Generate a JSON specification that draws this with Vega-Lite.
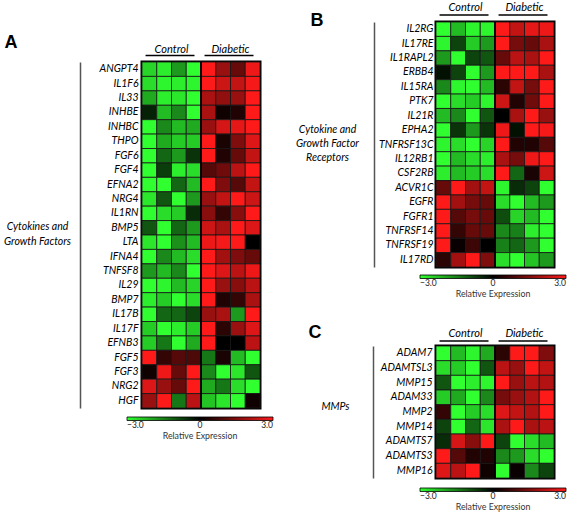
{
"$schema": "https://vega.github.io/schema/vega-lite/v6.json",
"padding": {"left": 1, "top": 0, "right": 0, "bottom": 0},
"config": {"font": "Lato", "view": {"stroke": "black", "strokeWidth": 3}},
"datasets": {"expr": [
{"panel":"A","gene":"ANGPT4","group":"Control","rep":1,"value":-2.5},{"panel":"A","gene":"ANGPT4","group":"Control","rep":2,"value":-2.8},{"panel":"A","gene":"ANGPT4","group":"Control","rep":3,"value":-1.8},{"panel":"A","gene":"ANGPT4","group":"Control","rep":4,"value":-3},{"panel":"A","gene":"ANGPT4","group":"Diabetic","rep":1,"value":3},{"panel":"A","gene":"ANGPT4","group":"Diabetic","rep":2,"value":1.8},{"panel":"A","gene":"ANGPT4","group":"Diabetic","rep":3,"value":1.2},{"panel":"A","gene":"ANGPT4","group":"Diabetic","rep":4,"value":2.8},
{"panel":"A","gene":"IL1F6","group":"Control","rep":1,"value":-2.6},{"panel":"A","gene":"IL1F6","group":"Control","rep":2,"value":-2.9},{"panel":"A","gene":"IL1F6","group":"Control","rep":3,"value":-2.8},{"panel":"A","gene":"IL1F6","group":"Control","rep":4,"value":-2.9},{"panel":"A","gene":"IL1F6","group":"Diabetic","rep":1,"value":3},{"panel":"A","gene":"IL1F6","group":"Diabetic","rep":2,"value":2.4},{"panel":"A","gene":"IL1F6","group":"Diabetic","rep":3,"value":2.3},{"panel":"A","gene":"IL1F6","group":"Diabetic","rep":4,"value":2.9},
{"panel":"A","gene":"IL33","group":"Control","rep":1,"value":-2.0},{"panel":"A","gene":"IL33","group":"Control","rep":2,"value":-2.8},{"panel":"A","gene":"IL33","group":"Control","rep":3,"value":-2.7},{"panel":"A","gene":"IL33","group":"Control","rep":4,"value":-3},{"panel":"A","gene":"IL33","group":"Diabetic","rep":1,"value":2.0},{"panel":"A","gene":"IL33","group":"Diabetic","rep":2,"value":1.7},{"panel":"A","gene":"IL33","group":"Diabetic","rep":3,"value":1.8},{"panel":"A","gene":"IL33","group":"Diabetic","rep":4,"value":3},
{"panel":"A","gene":"INHBE","group":"Control","rep":1,"value":-0.4},{"panel":"A","gene":"INHBE","group":"Control","rep":2,"value":-2.2},{"panel":"A","gene":"INHBE","group":"Control","rep":3,"value":-1.6},{"panel":"A","gene":"INHBE","group":"Control","rep":4,"value":-3},{"panel":"A","gene":"INHBE","group":"Diabetic","rep":1,"value":2.0},{"panel":"A","gene":"INHBE","group":"Diabetic","rep":2,"value":0.2},{"panel":"A","gene":"INHBE","group":"Diabetic","rep":3,"value":0.4},{"panel":"A","gene":"INHBE","group":"Diabetic","rep":4,"value":3},
{"panel":"A","gene":"INHBC","group":"Control","rep":1,"value":-3},{"panel":"A","gene":"INHBC","group":"Control","rep":2,"value":-1.6},{"panel":"A","gene":"INHBC","group":"Control","rep":3,"value":-2.2},{"panel":"A","gene":"INHBC","group":"Control","rep":4,"value":-2.0},{"panel":"A","gene":"INHBC","group":"Diabetic","rep":1,"value":1.8},{"panel":"A","gene":"INHBC","group":"Diabetic","rep":2,"value":2.5},{"panel":"A","gene":"INHBC","group":"Diabetic","rep":3,"value":2.7},{"panel":"A","gene":"INHBC","group":"Diabetic","rep":4,"value":3},
{"panel":"A","gene":"THPO","group":"Control","rep":1,"value":-3},{"panel":"A","gene":"THPO","group":"Control","rep":2,"value":-2.0},{"panel":"A","gene":"THPO","group":"Control","rep":3,"value":-2.4},{"panel":"A","gene":"THPO","group":"Control","rep":4,"value":-2.4},{"panel":"A","gene":"THPO","group":"Diabetic","rep":1,"value":3},{"panel":"A","gene":"THPO","group":"Diabetic","rep":2,"value":0.3},{"panel":"A","gene":"THPO","group":"Diabetic","rep":3,"value":1.5},{"panel":"A","gene":"THPO","group":"Diabetic","rep":4,"value":2.6},
{"panel":"A","gene":"FGF6","group":"Control","rep":1,"value":-3},{"panel":"A","gene":"FGF6","group":"Control","rep":2,"value":-1.2},{"panel":"A","gene":"FGF6","group":"Control","rep":3,"value":-1.8},{"panel":"A","gene":"FGF6","group":"Control","rep":4,"value":-0.6},{"panel":"A","gene":"FGF6","group":"Diabetic","rep":1,"value":3},{"panel":"A","gene":"FGF6","group":"Diabetic","rep":2,"value":0.4},{"panel":"A","gene":"FGF6","group":"Diabetic","rep":3,"value":1.2},{"panel":"A","gene":"FGF6","group":"Diabetic","rep":4,"value":2.3},
{"panel":"A","gene":"FGF4","group":"Control","rep":1,"value":-3},{"panel":"A","gene":"FGF4","group":"Control","rep":2,"value":-0.7},{"panel":"A","gene":"FGF4","group":"Control","rep":3,"value":-2.8},{"panel":"A","gene":"FGF4","group":"Control","rep":4,"value":-2.6},{"panel":"A","gene":"FGF4","group":"Diabetic","rep":1,"value":1.0},{"panel":"A","gene":"FGF4","group":"Diabetic","rep":2,"value":1.3},{"panel":"A","gene":"FGF4","group":"Diabetic","rep":3,"value":2.2},{"panel":"A","gene":"FGF4","group":"Diabetic","rep":4,"value":3},
{"panel":"A","gene":"EFNA2","group":"Control","rep":1,"value":-3},{"panel":"A","gene":"EFNA2","group":"Control","rep":2,"value":-3},{"panel":"A","gene":"EFNA2","group":"Control","rep":3,"value":-1.2},{"panel":"A","gene":"EFNA2","group":"Control","rep":4,"value":-2.2},{"panel":"A","gene":"EFNA2","group":"Diabetic","rep":1,"value":3},{"panel":"A","gene":"EFNA2","group":"Diabetic","rep":2,"value":1.5},{"panel":"A","gene":"EFNA2","group":"Diabetic","rep":3,"value":1.0},{"panel":"A","gene":"EFNA2","group":"Diabetic","rep":4,"value":2.3},
{"panel":"A","gene":"NRG4","group":"Control","rep":1,"value":-2.7},{"panel":"A","gene":"NRG4","group":"Control","rep":2,"value":-1.0},{"panel":"A","gene":"NRG4","group":"Control","rep":3,"value":-3},{"panel":"A","gene":"NRG4","group":"Control","rep":4,"value":-1.8},{"panel":"A","gene":"NRG4","group":"Diabetic","rep":1,"value":1.8},{"panel":"A","gene":"NRG4","group":"Diabetic","rep":2,"value":2.3},{"panel":"A","gene":"NRG4","group":"Diabetic","rep":3,"value":3},{"panel":"A","gene":"NRG4","group":"Diabetic","rep":4,"value":2.4},
{"panel":"A","gene":"IL1RN","group":"Control","rep":1,"value":-3},{"panel":"A","gene":"IL1RN","group":"Control","rep":2,"value":-2.6},{"panel":"A","gene":"IL1RN","group":"Control","rep":3,"value":-2.4},{"panel":"A","gene":"IL1RN","group":"Control","rep":4,"value":-0.5},{"panel":"A","gene":"IL1RN","group":"Diabetic","rep":1,"value":1.6},{"panel":"A","gene":"IL1RN","group":"Diabetic","rep":2,"value":0.6},{"panel":"A","gene":"IL1RN","group":"Diabetic","rep":3,"value":1.6},{"panel":"A","gene":"IL1RN","group":"Diabetic","rep":4,"value":3},
{"panel":"A","gene":"BMP5","group":"Control","rep":1,"value":-1.0},{"panel":"A","gene":"BMP5","group":"Control","rep":2,"value":-3},{"panel":"A","gene":"BMP5","group":"Control","rep":3,"value":-1.2},{"panel":"A","gene":"BMP5","group":"Control","rep":4,"value":-1.8},{"panel":"A","gene":"BMP5","group":"Diabetic","rep":1,"value":2.4},{"panel":"A","gene":"BMP5","group":"Diabetic","rep":2,"value":2.0},{"panel":"A","gene":"BMP5","group":"Diabetic","rep":3,"value":3},{"panel":"A","gene":"BMP5","group":"Diabetic","rep":4,"value":2.6},
{"panel":"A","gene":"LTA","group":"Control","rep":1,"value":-2.7},{"panel":"A","gene":"LTA","group":"Control","rep":2,"value":-3},{"panel":"A","gene":"LTA","group":"Control","rep":3,"value":-1.7},{"panel":"A","gene":"LTA","group":"Control","rep":4,"value":-2.2},{"panel":"A","gene":"LTA","group":"Diabetic","rep":1,"value":2.8},{"panel":"A","gene":"LTA","group":"Diabetic","rep":2,"value":2.9},{"panel":"A","gene":"LTA","group":"Diabetic","rep":3,"value":3},{"panel":"A","gene":"LTA","group":"Diabetic","rep":4,"value":0},
{"panel":"A","gene":"IFNA4","group":"Control","rep":1,"value":-3},{"panel":"A","gene":"IFNA4","group":"Control","rep":2,"value":-1.6},{"panel":"A","gene":"IFNA4","group":"Control","rep":3,"value":-2.2},{"panel":"A","gene":"IFNA4","group":"Control","rep":4,"value":-2.6},{"panel":"A","gene":"IFNA4","group":"Diabetic","rep":1,"value":3},{"panel":"A","gene":"IFNA4","group":"Diabetic","rep":2,"value":1.9},{"panel":"A","gene":"IFNA4","group":"Diabetic","rep":3,"value":1.5},{"panel":"A","gene":"IFNA4","group":"Diabetic","rep":4,"value":1.2},
{"panel":"A","gene":"TNFSF8","group":"Control","rep":1,"value":-1.8},{"panel":"A","gene":"TNFSF8","group":"Control","rep":2,"value":-2.2},{"panel":"A","gene":"TNFSF8","group":"Control","rep":3,"value":-1.6},{"panel":"A","gene":"TNFSF8","group":"Control","rep":4,"value":-3},{"panel":"A","gene":"TNFSF8","group":"Diabetic","rep":1,"value":3},{"panel":"A","gene":"TNFSF8","group":"Diabetic","rep":2,"value":2.6},{"panel":"A","gene":"TNFSF8","group":"Diabetic","rep":3,"value":2.2},{"panel":"A","gene":"TNFSF8","group":"Diabetic","rep":4,"value":2.8},
{"panel":"A","gene":"IL29","group":"Control","rep":1,"value":-3},{"panel":"A","gene":"IL29","group":"Control","rep":2,"value":-2.9},{"panel":"A","gene":"IL29","group":"Control","rep":3,"value":-2.2},{"panel":"A","gene":"IL29","group":"Control","rep":4,"value":-2.5},{"panel":"A","gene":"IL29","group":"Diabetic","rep":1,"value":3},{"panel":"A","gene":"IL29","group":"Diabetic","rep":2,"value":1.8},{"panel":"A","gene":"IL29","group":"Diabetic","rep":3,"value":1.6},{"panel":"A","gene":"IL29","group":"Diabetic","rep":4,"value":2.2},
{"panel":"A","gene":"BMP7","group":"Control","rep":1,"value":-2.8},{"panel":"A","gene":"BMP7","group":"Control","rep":2,"value":-2.4},{"panel":"A","gene":"BMP7","group":"Control","rep":3,"value":-3},{"panel":"A","gene":"BMP7","group":"Control","rep":4,"value":-2.6},{"panel":"A","gene":"BMP7","group":"Diabetic","rep":1,"value":3},{"panel":"A","gene":"BMP7","group":"Diabetic","rep":2,"value":0.4},{"panel":"A","gene":"BMP7","group":"Diabetic","rep":3,"value":0.6},{"panel":"A","gene":"BMP7","group":"Diabetic","rep":4,"value":2.0},
{"panel":"A","gene":"IL17B","group":"Control","rep":1,"value":-3},{"panel":"A","gene":"IL17B","group":"Control","rep":2,"value":-1.2},{"panel":"A","gene":"IL17B","group":"Control","rep":3,"value":-1.2},{"panel":"A","gene":"IL17B","group":"Control","rep":4,"value":-0.8},{"panel":"A","gene":"IL17B","group":"Diabetic","rep":1,"value":1.8},{"panel":"A","gene":"IL17B","group":"Diabetic","rep":2,"value":2.0},{"panel":"A","gene":"IL17B","group":"Diabetic","rep":3,"value":-1.8},{"panel":"A","gene":"IL17B","group":"Diabetic","rep":4,"value":3},
{"panel":"A","gene":"IL17F","group":"Control","rep":1,"value":-2.4},{"panel":"A","gene":"IL17F","group":"Control","rep":2,"value":-3},{"panel":"A","gene":"IL17F","group":"Control","rep":3,"value":-2.8},{"panel":"A","gene":"IL17F","group":"Control","rep":4,"value":-2.4},{"panel":"A","gene":"IL17F","group":"Diabetic","rep":1,"value":3},{"panel":"A","gene":"IL17F","group":"Diabetic","rep":2,"value":0.5},{"panel":"A","gene":"IL17F","group":"Diabetic","rep":3,"value":1.8},{"panel":"A","gene":"IL17F","group":"Diabetic","rep":4,"value":2.6},
{"panel":"A","gene":"EFNB3","group":"Control","rep":1,"value":-2.4},{"panel":"A","gene":"EFNB3","group":"Control","rep":2,"value":-1.4},{"panel":"A","gene":"EFNB3","group":"Control","rep":3,"value":-3},{"panel":"A","gene":"EFNB3","group":"Control","rep":4,"value":-2.0},{"panel":"A","gene":"EFNB3","group":"Diabetic","rep":1,"value":3},{"panel":"A","gene":"EFNB3","group":"Diabetic","rep":2,"value":0},{"panel":"A","gene":"EFNB3","group":"Diabetic","rep":3,"value":0},{"panel":"A","gene":"EFNB3","group":"Diabetic","rep":4,"value":2.2},
{"panel":"A","gene":"FGF5","group":"Control","rep":1,"value":3},{"panel":"A","gene":"FGF5","group":"Control","rep":2,"value":0.6},{"panel":"A","gene":"FGF5","group":"Control","rep":3,"value":1.0},{"panel":"A","gene":"FGF5","group":"Control","rep":4,"value":0.9},{"panel":"A","gene":"FGF5","group":"Diabetic","rep":1,"value":-1.4},{"panel":"A","gene":"FGF5","group":"Diabetic","rep":2,"value":0.3},{"panel":"A","gene":"FGF5","group":"Diabetic","rep":3,"value":-2.2},{"panel":"A","gene":"FGF5","group":"Diabetic","rep":4,"value":-3},
{"panel":"A","gene":"FGF3","group":"Control","rep":1,"value":0.2},{"panel":"A","gene":"FGF3","group":"Control","rep":2,"value":2.8},{"panel":"A","gene":"FGF3","group":"Control","rep":3,"value":1.2},{"panel":"A","gene":"FGF3","group":"Control","rep":4,"value":3},{"panel":"A","gene":"FGF3","group":"Diabetic","rep":1,"value":-1.6},{"panel":"A","gene":"FGF3","group":"Diabetic","rep":2,"value":-3},{"panel":"A","gene":"FGF3","group":"Diabetic","rep":3,"value":-2.7},{"panel":"A","gene":"FGF3","group":"Diabetic","rep":4,"value":-1.0},
{"panel":"A","gene":"NRG2","group":"Control","rep":1,"value":2.6},{"panel":"A","gene":"NRG2","group":"Control","rep":2,"value":1.8},{"panel":"A","gene":"NRG2","group":"Control","rep":3,"value":1.2},{"panel":"A","gene":"NRG2","group":"Control","rep":4,"value":3},{"panel":"A","gene":"NRG2","group":"Diabetic","rep":1,"value":-2.0},{"panel":"A","gene":"NRG2","group":"Diabetic","rep":2,"value":-1.4},{"panel":"A","gene":"NRG2","group":"Diabetic","rep":3,"value":-2.6},{"panel":"A","gene":"NRG2","group":"Diabetic","rep":4,"value":-3},
{"panel":"A","gene":"HGF","group":"Control","rep":1,"value":1.8},{"panel":"A","gene":"HGF","group":"Control","rep":2,"value":3},{"panel":"A","gene":"HGF","group":"Control","rep":3,"value":-1.4},{"panel":"A","gene":"HGF","group":"Control","rep":4,"value":2.2},{"panel":"A","gene":"HGF","group":"Diabetic","rep":1,"value":-2.3},{"panel":"A","gene":"HGF","group":"Diabetic","rep":2,"value":-2.7},{"panel":"A","gene":"HGF","group":"Diabetic","rep":3,"value":-3},{"panel":"A","gene":"HGF","group":"Diabetic","rep":4,"value":0.2},
{"panel":"B","gene":"IL2RG","group":"Control","rep":1,"value":-3},{"panel":"B","gene":"IL2RG","group":"Control","rep":2,"value":-2.2},{"panel":"B","gene":"IL2RG","group":"Control","rep":3,"value":-2.9},{"panel":"B","gene":"IL2RG","group":"Control","rep":4,"value":-2.9},{"panel":"B","gene":"IL2RG","group":"Diabetic","rep":1,"value":3},{"panel":"B","gene":"IL2RG","group":"Diabetic","rep":2,"value":2.3},{"panel":"B","gene":"IL2RG","group":"Diabetic","rep":3,"value":2.7},{"panel":"B","gene":"IL2RG","group":"Diabetic","rep":4,"value":2.8},
{"panel":"B","gene":"IL17RE","group":"Control","rep":1,"value":-2.9},{"panel":"B","gene":"IL17RE","group":"Control","rep":2,"value":-0.8},{"panel":"B","gene":"IL17RE","group":"Control","rep":3,"value":-2.4},{"panel":"B","gene":"IL17RE","group":"Control","rep":4,"value":-1.8},{"panel":"B","gene":"IL17RE","group":"Diabetic","rep":1,"value":3},{"panel":"B","gene":"IL17RE","group":"Diabetic","rep":2,"value":1.4},{"panel":"B","gene":"IL17RE","group":"Diabetic","rep":3,"value":1.2},{"panel":"B","gene":"IL17RE","group":"Diabetic","rep":4,"value":2.0},
{"panel":"B","gene":"IL1RAPL2","group":"Control","rep":1,"value":-1.8},{"panel":"B","gene":"IL1RAPL2","group":"Control","rep":2,"value":-3},{"panel":"B","gene":"IL1RAPL2","group":"Control","rep":3,"value":-0.8},{"panel":"B","gene":"IL1RAPL2","group":"Control","rep":4,"value":-1.0},{"panel":"B","gene":"IL1RAPL2","group":"Diabetic","rep":1,"value":1.2},{"panel":"B","gene":"IL1RAPL2","group":"Diabetic","rep":2,"value":2.2},{"panel":"B","gene":"IL1RAPL2","group":"Diabetic","rep":3,"value":2.0},{"panel":"B","gene":"IL1RAPL2","group":"Diabetic","rep":4,"value":3},
{"panel":"B","gene":"ERBB4","group":"Control","rep":1,"value":-0.2},{"panel":"B","gene":"ERBB4","group":"Control","rep":2,"value":-0.8},{"panel":"B","gene":"ERBB4","group":"Control","rep":3,"value":-3},{"panel":"B","gene":"ERBB4","group":"Control","rep":4,"value":-1.8},{"panel":"B","gene":"ERBB4","group":"Diabetic","rep":1,"value":3},{"panel":"B","gene":"ERBB4","group":"Diabetic","rep":2,"value":3},{"panel":"B","gene":"ERBB4","group":"Diabetic","rep":3,"value":3},{"panel":"B","gene":"ERBB4","group":"Diabetic","rep":4,"value":2.0},
{"panel":"B","gene":"IL15RA","group":"Control","rep":1,"value":-1.6},{"panel":"B","gene":"IL15RA","group":"Control","rep":2,"value":-2.9},{"panel":"B","gene":"IL15RA","group":"Control","rep":3,"value":-3},{"panel":"B","gene":"IL15RA","group":"Control","rep":4,"value":-2.2},{"panel":"B","gene":"IL15RA","group":"Diabetic","rep":1,"value":0.5},{"panel":"B","gene":"IL15RA","group":"Diabetic","rep":2,"value":2.3},{"panel":"B","gene":"IL15RA","group":"Diabetic","rep":3,"value":1.4},{"panel":"B","gene":"IL15RA","group":"Diabetic","rep":4,"value":3},
{"panel":"B","gene":"PTK7","group":"Control","rep":1,"value":-3},{"panel":"B","gene":"PTK7","group":"Control","rep":2,"value":-2.6},{"panel":"B","gene":"PTK7","group":"Control","rep":3,"value":-2.4},{"panel":"B","gene":"PTK7","group":"Control","rep":4,"value":-2.9},{"panel":"B","gene":"PTK7","group":"Diabetic","rep":1,"value":2.4},{"panel":"B","gene":"PTK7","group":"Diabetic","rep":2,"value":0.4},{"panel":"B","gene":"PTK7","group":"Diabetic","rep":3,"value":1.3},{"panel":"B","gene":"PTK7","group":"Diabetic","rep":4,"value":3},
{"panel":"B","gene":"IL21R","group":"Control","rep":1,"value":-2.2},{"panel":"B","gene":"IL21R","group":"Control","rep":2,"value":-1.6},{"panel":"B","gene":"IL21R","group":"Control","rep":3,"value":-3},{"panel":"B","gene":"IL21R","group":"Control","rep":4,"value":-1.0},{"panel":"B","gene":"IL21R","group":"Diabetic","rep":1,"value":0},{"panel":"B","gene":"IL21R","group":"Diabetic","rep":2,"value":2.0},{"panel":"B","gene":"IL21R","group":"Diabetic","rep":3,"value":3},{"panel":"B","gene":"IL21R","group":"Diabetic","rep":4,"value":1.8},
{"panel":"B","gene":"EPHA2","group":"Control","rep":1,"value":-3},{"panel":"B","gene":"EPHA2","group":"Control","rep":2,"value":-0.6},{"panel":"B","gene":"EPHA2","group":"Control","rep":3,"value":-1.8},{"panel":"B","gene":"EPHA2","group":"Control","rep":4,"value":-0.6},{"panel":"B","gene":"EPHA2","group":"Diabetic","rep":1,"value":2.8},{"panel":"B","gene":"EPHA2","group":"Diabetic","rep":2,"value":-0.2},{"panel":"B","gene":"EPHA2","group":"Diabetic","rep":3,"value":3},{"panel":"B","gene":"EPHA2","group":"Diabetic","rep":4,"value":2.9},
{"panel":"B","gene":"TNFRSF13C","group":"Control","rep":1,"value":-2.9},{"panel":"B","gene":"TNFRSF13C","group":"Control","rep":2,"value":-2.6},{"panel":"B","gene":"TNFRSF13C","group":"Control","rep":3,"value":-3},{"panel":"B","gene":"TNFRSF13C","group":"Control","rep":4,"value":-2.5},{"panel":"B","gene":"TNFRSF13C","group":"Diabetic","rep":1,"value":3},{"panel":"B","gene":"TNFRSF13C","group":"Diabetic","rep":2,"value":0.4},{"panel":"B","gene":"TNFRSF13C","group":"Diabetic","rep":3,"value":0.4},{"panel":"B","gene":"TNFRSF13C","group":"Diabetic","rep":4,"value":1.0},
{"panel":"B","gene":"IL12RB1","group":"Control","rep":1,"value":-3},{"panel":"B","gene":"IL12RB1","group":"Control","rep":2,"value":-2.2},{"panel":"B","gene":"IL12RB1","group":"Control","rep":3,"value":-2.6},{"panel":"B","gene":"IL12RB1","group":"Control","rep":4,"value":-2.8},{"panel":"B","gene":"IL12RB1","group":"Diabetic","rep":1,"value":2.0},{"panel":"B","gene":"IL12RB1","group":"Diabetic","rep":2,"value":1.4},{"panel":"B","gene":"IL12RB1","group":"Diabetic","rep":3,"value":2.8},{"panel":"B","gene":"IL12RB1","group":"Diabetic","rep":4,"value":3},
{"panel":"B","gene":"CSF2RB","group":"Control","rep":1,"value":-2.8},{"panel":"B","gene":"CSF2RB","group":"Control","rep":2,"value":-2.2},{"panel":"B","gene":"CSF2RB","group":"Control","rep":3,"value":-2.4},{"panel":"B","gene":"CSF2RB","group":"Control","rep":4,"value":-2.6},{"panel":"B","gene":"CSF2RB","group":"Diabetic","rep":1,"value":3},{"panel":"B","gene":"CSF2RB","group":"Diabetic","rep":2,"value":-1.2},{"panel":"B","gene":"CSF2RB","group":"Diabetic","rep":3,"value":0.3},{"panel":"B","gene":"CSF2RB","group":"Diabetic","rep":4,"value":2.4},
{"panel":"B","gene":"ACVR1C","group":"Control","rep":1,"value":1.2},{"panel":"B","gene":"ACVR1C","group":"Control","rep":2,"value":3},{"panel":"B","gene":"ACVR1C","group":"Control","rep":3,"value":1.9},{"panel":"B","gene":"ACVR1C","group":"Control","rep":4,"value":2.3},{"panel":"B","gene":"ACVR1C","group":"Diabetic","rep":1,"value":-2.9},{"panel":"B","gene":"ACVR1C","group":"Diabetic","rep":2,"value":-0.5},{"panel":"B","gene":"ACVR1C","group":"Diabetic","rep":3,"value":-0.8},{"panel":"B","gene":"ACVR1C","group":"Diabetic","rep":4,"value":-3},
{"panel":"B","gene":"EGFR","group":"Control","rep":1,"value":3},{"panel":"B","gene":"EGFR","group":"Control","rep":2,"value":1.9},{"panel":"B","gene":"EGFR","group":"Control","rep":3,"value":1.4},{"panel":"B","gene":"EGFR","group":"Control","rep":4,"value":1.2},{"panel":"B","gene":"EGFR","group":"Diabetic","rep":1,"value":-2.6},{"panel":"B","gene":"EGFR","group":"Diabetic","rep":2,"value":-3},{"panel":"B","gene":"EGFR","group":"Diabetic","rep":3,"value":-2.2},{"panel":"B","gene":"EGFR","group":"Diabetic","rep":4,"value":-1.8},
{"panel":"B","gene":"FGFR1","group":"Control","rep":1,"value":3},{"panel":"B","gene":"FGFR1","group":"Control","rep":2,"value":1.0},{"panel":"B","gene":"FGFR1","group":"Control","rep":3,"value":1.4},{"panel":"B","gene":"FGFR1","group":"Control","rep":4,"value":1.2},{"panel":"B","gene":"FGFR1","group":"Diabetic","rep":1,"value":-0.9},{"panel":"B","gene":"FGFR1","group":"Diabetic","rep":2,"value":-2.5},{"panel":"B","gene":"FGFR1","group":"Diabetic","rep":3,"value":-2.2},{"panel":"B","gene":"FGFR1","group":"Diabetic","rep":4,"value":-3},
{"panel":"B","gene":"TNFRSF14","group":"Control","rep":1,"value":3},{"panel":"B","gene":"TNFRSF14","group":"Control","rep":2,"value":0.6},{"panel":"B","gene":"TNFRSF14","group":"Control","rep":3,"value":1.2},{"panel":"B","gene":"TNFRSF14","group":"Control","rep":4,"value":1.2},{"panel":"B","gene":"TNFRSF14","group":"Diabetic","rep":1,"value":-1.6},{"panel":"B","gene":"TNFRSF14","group":"Diabetic","rep":2,"value":-1.5},{"panel":"B","gene":"TNFRSF14","group":"Diabetic","rep":3,"value":-2.8},{"panel":"B","gene":"TNFRSF14","group":"Diabetic","rep":4,"value":-3},
{"panel":"B","gene":"TNFRSF19","group":"Control","rep":1,"value":3},{"panel":"B","gene":"TNFRSF19","group":"Control","rep":2,"value":0.1},{"panel":"B","gene":"TNFRSF19","group":"Control","rep":3,"value":0.7},{"panel":"B","gene":"TNFRSF19","group":"Control","rep":4,"value":0},{"panel":"B","gene":"TNFRSF19","group":"Diabetic","rep":1,"value":-1.5},{"panel":"B","gene":"TNFRSF19","group":"Diabetic","rep":2,"value":-1.2},{"panel":"B","gene":"TNFRSF19","group":"Diabetic","rep":3,"value":-1.8},{"panel":"B","gene":"TNFRSF19","group":"Diabetic","rep":4,"value":-3},
{"panel":"B","gene":"IL17RD","group":"Control","rep":1,"value":0.5},{"panel":"B","gene":"IL17RD","group":"Control","rep":2,"value":1.9},{"panel":"B","gene":"IL17RD","group":"Control","rep":3,"value":3},{"panel":"B","gene":"IL17RD","group":"Control","rep":4,"value":1.5},{"panel":"B","gene":"IL17RD","group":"Diabetic","rep":1,"value":-2.6},{"panel":"B","gene":"IL17RD","group":"Diabetic","rep":2,"value":-3},{"panel":"B","gene":"IL17RD","group":"Diabetic","rep":3,"value":-2.3},{"panel":"B","gene":"IL17RD","group":"Diabetic","rep":4,"value":-1.8},
{"panel":"C","gene":"ADAM7","group":"Control","rep":1,"value":-3},{"panel":"C","gene":"ADAM7","group":"Control","rep":2,"value":-2.2},{"panel":"C","gene":"ADAM7","group":"Control","rep":3,"value":-2.9},{"panel":"C","gene":"ADAM7","group":"Control","rep":4,"value":-2.0},{"panel":"C","gene":"ADAM7","group":"Diabetic","rep":1,"value":0.5},{"panel":"C","gene":"ADAM7","group":"Diabetic","rep":2,"value":3},{"panel":"C","gene":"ADAM7","group":"Diabetic","rep":3,"value":3},{"panel":"C","gene":"ADAM7","group":"Diabetic","rep":4,"value":1.5},
{"panel":"C","gene":"ADAMTSL3","group":"Control","rep":1,"value":-2.6},{"panel":"C","gene":"ADAMTSL3","group":"Control","rep":2,"value":-2.4},{"panel":"C","gene":"ADAMTSL3","group":"Control","rep":3,"value":-3},{"panel":"C","gene":"ADAMTSL3","group":"Control","rep":4,"value":-1.0},{"panel":"C","gene":"ADAMTSL3","group":"Diabetic","rep":1,"value":2.2},{"panel":"C","gene":"ADAMTSL3","group":"Diabetic","rep":2,"value":1.8},{"panel":"C","gene":"ADAMTSL3","group":"Diabetic","rep":3,"value":3},{"panel":"C","gene":"ADAMTSL3","group":"Diabetic","rep":4,"value":2.3},
{"panel":"C","gene":"MMP15","group":"Control","rep":1,"value":-1.0},{"panel":"C","gene":"MMP15","group":"Control","rep":2,"value":-3},{"panel":"C","gene":"MMP15","group":"Control","rep":3,"value":-2.8},{"panel":"C","gene":"MMP15","group":"Control","rep":4,"value":-2.9},{"panel":"C","gene":"MMP15","group":"Diabetic","rep":1,"value":3},{"panel":"C","gene":"MMP15","group":"Diabetic","rep":2,"value":1.8},{"panel":"C","gene":"MMP15","group":"Diabetic","rep":3,"value":2.2},{"panel":"C","gene":"MMP15","group":"Diabetic","rep":4,"value":2.1},
{"panel":"C","gene":"ADAM33","group":"Control","rep":1,"value":-2.4},{"panel":"C","gene":"ADAM33","group":"Control","rep":2,"value":-2.0},{"panel":"C","gene":"ADAM33","group":"Control","rep":3,"value":-3},{"panel":"C","gene":"ADAM33","group":"Control","rep":4,"value":-1.6},{"panel":"C","gene":"ADAM33","group":"Diabetic","rep":1,"value":1.4},{"panel":"C","gene":"ADAM33","group":"Diabetic","rep":2,"value":1.8},{"panel":"C","gene":"ADAM33","group":"Diabetic","rep":3,"value":2.1},{"panel":"C","gene":"ADAM33","group":"Diabetic","rep":4,"value":3},
{"panel":"C","gene":"MMP2","group":"Control","rep":1,"value":0.6},{"panel":"C","gene":"MMP2","group":"Control","rep":2,"value":-3},{"panel":"C","gene":"MMP2","group":"Control","rep":3,"value":-2.4},{"panel":"C","gene":"MMP2","group":"Control","rep":4,"value":-2.6},{"panel":"C","gene":"MMP2","group":"Diabetic","rep":1,"value":2.6},{"panel":"C","gene":"MMP2","group":"Diabetic","rep":2,"value":2.3},{"panel":"C","gene":"MMP2","group":"Diabetic","rep":3,"value":2.1},{"panel":"C","gene":"MMP2","group":"Diabetic","rep":4,"value":3},
{"panel":"C","gene":"MMP14","group":"Control","rep":1,"value":-0.8},{"panel":"C","gene":"MMP14","group":"Control","rep":2,"value":-3},{"panel":"C","gene":"MMP14","group":"Control","rep":3,"value":-1.2},{"panel":"C","gene":"MMP14","group":"Control","rep":4,"value":-2.7},{"panel":"C","gene":"MMP14","group":"Diabetic","rep":1,"value":2.0},{"panel":"C","gene":"MMP14","group":"Diabetic","rep":2,"value":3},{"panel":"C","gene":"MMP14","group":"Diabetic","rep":3,"value":2.0},{"panel":"C","gene":"MMP14","group":"Diabetic","rep":4,"value":2.2},
{"panel":"C","gene":"ADAMTS7","group":"Control","rep":1,"value":-0.5},{"panel":"C","gene":"ADAMTS7","group":"Control","rep":2,"value":2.5},{"panel":"C","gene":"ADAMTS7","group":"Control","rep":3,"value":1.6},{"panel":"C","gene":"ADAMTS7","group":"Control","rep":4,"value":3},{"panel":"C","gene":"ADAMTS7","group":"Diabetic","rep":1,"value":-0.8},{"panel":"C","gene":"ADAMTS7","group":"Diabetic","rep":2,"value":-3},{"panel":"C","gene":"ADAMTS7","group":"Diabetic","rep":3,"value":-2.6},{"panel":"C","gene":"ADAMTS7","group":"Diabetic","rep":4,"value":-2.2},
{"panel":"C","gene":"ADAMTS3","group":"Control","rep":1,"value":3},{"panel":"C","gene":"ADAMTS3","group":"Control","rep":2,"value":1.0},{"panel":"C","gene":"ADAMTS3","group":"Control","rep":3,"value":0.4},{"panel":"C","gene":"ADAMTS3","group":"Control","rep":4,"value":0.4},{"panel":"C","gene":"ADAMTS3","group":"Diabetic","rep":1,"value":-1.6},{"panel":"C","gene":"ADAMTS3","group":"Diabetic","rep":2,"value":-1.8},{"panel":"C","gene":"ADAMTS3","group":"Diabetic","rep":3,"value":-2.6},{"panel":"C","gene":"ADAMTS3","group":"Diabetic","rep":4,"value":-3},
{"panel":"C","gene":"MMP16","group":"Control","rep":1,"value":2.6},{"panel":"C","gene":"MMP16","group":"Control","rep":2,"value":2.2},{"panel":"C","gene":"MMP16","group":"Control","rep":3,"value":3},{"panel":"C","gene":"MMP16","group":"Control","rep":4,"value":0.2},{"panel":"C","gene":"MMP16","group":"Diabetic","rep":1,"value":-3},{"panel":"C","gene":"MMP16","group":"Diabetic","rep":2,"value":0.1},{"panel":"C","gene":"MMP16","group":"Diabetic","rep":3,"value":-1.6},{"panel":"C","gene":"MMP16","group":"Diabetic","rep":4,"value":-0.8}
],
"groups": [{"group":"Control"},{"group":"Diabetic"}]},
"bounds": "flush",
"spacing": 294,
"resolve": {"scale": {"color": "independent"}, "legend": {"color": "independent"}},
"hconcat": [
 {"bounds": "flush", "spacing": 39,
  "resolve": {"scale": {"color": "independent"}, "legend": {"color": "independent"}},
  "vconcat": [
   {"width": 118, "height": 1, "data": {"values": []}, "mark": "point", "encoding": {}, "view": {"stroke": null}},
   {"width": 118, "height": 346,
    "layer": [
     {"data": {"name": "expr"}, "transform": [{"filter": "datum.panel === 'A'"}],
      "mark": {"type": "rect", "stroke": "#151515", "strokeWidth": 0.8},
      "encoding": {
       "x": {"field": "group", "type": "nominal", "sort": ["Control", "Diabetic"], "scale": {"paddingInner": 0, "paddingOuter": 0},
        "axis": {"orient": "top", "title": "A", "titleX": -138, "titleY": -14.5, "titleAlign": "left", "titleBaseline": "alphabetic", "titleAngle": 0, "titleFont": "Liberation Sans", "titleFontSize": 18, "titleFontWeight": "bold", "titleColor": "black",
         "labelAngle": 0, "labelFontStyle": "italic", "labelFontSize": 11, "labelBaseline": "alphabetic", "labelPadding": 10, "labelColor": "black", "domain": false, "ticks": false, "tickSize": 0}},
       "xOffset": {"field": "rep", "type": "ordinal", "scale": {"paddingInner": 0, "paddingOuter": 0}},
       "y": {"field": "gene", "type": "nominal", "sort": null, "scale": {"paddingInner": 0, "paddingOuter": 0},
        "axis": {"orient": "left", "offset": 62, "title": ["Cytokines and", "Growth Factors"], "titleAngle": 0, "titleAlign": "center", "titleBaseline": "middle", "titleX": -43, "titleY": 164, "titleFontStyle": "italic", "titleFontWeight": "normal", "titleFontSize": 10.5, "titleLineHeight": 15, "titleColor": "black",
         "labelFontStyle": "italic", "labelFontSize": 10.5, "labelPadding": -58, "labelColor": "black", "ticks": false, "tickSize": 0, "domainColor": "#555", "domainWidth": 1.5}},
       "color": {"field": "value", "type": "quantitative", "scale": {"domain": [-3, 0, 3], "range": ["#30ff30", "#000000", "#ff1a1a"], "interpolate": "rgb"},
        "legend": {"orient": "none", "legendX": -15, "legendY": 355, "direction": "horizontal", "gradientLength": 146, "gradientThickness": 3.5, "values": [-3, 0, 3], "labelExpr": "datum.value == 0 ? '0' : format(datum.value, '.1f')", "title": "Relative Expression", "titleOrient": "bottom", "titleAnchor": "middle", "titleFontSize": 8.8, "titleFontWeight": "normal", "titleColor": "#333", "labelFontSize": 8.5, "labelColor": "#222", "gradientStrokeColor": "black", "gradientStrokeWidth": 0.8, "padding": 0, "labelOffset": 0.5, "titlePadding": 2}}
      }},
     {"data": {"values": [{}]}, "mark": {"type": "rule", "color": "black", "strokeWidth": 2},
      "encoding": {"x": {"datum": "Diabetic", "bandPosition": 0}}},
     {"data": {"name": "groups"}, "mark": {"type": "rule", "color": "black", "strokeWidth": 1.6, "yOffset": -6.5},
      "encoding": {"x": {"field": "group", "type": "nominal", "sort": ["Control", "Diabetic"], "bandPosition": 0.06}, "x2": {"field": "group", "bandPosition": 0.89}, "y": {"datum": "ANGPT4", "type": "nominal", "bandPosition": 0}}}
    ]}
  ]},
 {"bounds": "flush", "spacing": 79,
  "resolve": {"scale": {"color": "independent"}, "legend": {"color": "independent"}},
  "vconcat": [
   {"width": 118, "height": 245,
    "layer": [
     {"data": {"name": "expr"}, "transform": [{"filter": "datum.panel === 'B'"}],
      "mark": {"type": "rect", "stroke": "#151515", "strokeWidth": 0.8},
      "encoding": {
       "x": {"field": "group", "type": "nominal", "sort": ["Control", "Diabetic"], "scale": {"paddingInner": 0, "paddingOuter": 0},
        "axis": {"orient": "top", "title": "B", "titleX": -126, "titleY": 3.7, "titleAlign": "left", "titleBaseline": "alphabetic", "titleAngle": 0, "titleFont": "Liberation Sans", "titleFontSize": 18, "titleFontWeight": "bold", "titleColor": "black",
         "labelAngle": 0, "labelFontStyle": "italic", "labelFontSize": 11, "labelBaseline": "alphabetic", "labelPadding": 11.5, "labelColor": "black", "domain": false, "ticks": false, "tickSize": 0}},
       "xOffset": {"field": "rep", "type": "ordinal", "scale": {"paddingInner": 0, "paddingOuter": 0}},
       "y": {"field": "gene", "type": "nominal", "sort": null, "scale": {"paddingInner": 0, "paddingOuter": 0},
        "axis": {"orient": "left", "offset": 62, "title": ["Cytokine and", "Growth Factor", "Receptors"], "titleAngle": 0, "titleAlign": "center", "titleBaseline": "middle", "titleX": -47, "titleY": 107, "titleFontStyle": "italic", "titleFontWeight": "normal", "titleFontSize": 10.5, "titleLineHeight": 14, "titleColor": "black",
         "labelFontStyle": "italic", "labelFontSize": 10.5, "labelPadding": -59, "labelColor": "black", "ticks": false, "tickSize": 0, "domainColor": "#555", "domainWidth": 1.5}},
       "color": {"field": "value", "type": "quantitative", "scale": {"domain": [-3, 0, 3], "range": ["#30ff30", "#000000", "#ff1a1a"], "interpolate": "rgb"},
        "legend": {"orient": "none", "legendX": -16, "legendY": 253, "direction": "horizontal", "gradientLength": 146, "gradientThickness": 3.5, "values": [-3, 0, 3], "labelExpr": "datum.value == 0 ? '0' : format(datum.value, '.1f')", "title": "Relative Expression", "titleOrient": "bottom", "titleAnchor": "middle", "titleFontSize": 8.8, "titleFontWeight": "normal", "titleColor": "#333", "labelFontSize": 8.5, "labelColor": "#222", "gradientStrokeColor": "black", "gradientStrokeWidth": 0.8, "padding": 0, "labelOffset": 0.5, "titlePadding": 2}}
      }},
     {"data": {"values": [{}]}, "mark": {"type": "rule", "color": "black", "strokeWidth": 2},
      "encoding": {"x": {"datum": "Diabetic", "bandPosition": 0}}},
     {"data": {"name": "groups"}, "mark": {"type": "rule", "color": "black", "strokeWidth": 1.6, "yOffset": -7},
      "encoding": {"x": {"field": "group", "type": "nominal", "sort": ["Control", "Diabetic"], "bandPosition": 0.06}, "x2": {"field": "group", "bandPosition": 0.89}, "y": {"datum": "IL2RG", "type": "nominal", "bandPosition": 0}}}
    ]},
   {"width": 118, "height": 132,
    "layer": [
     {"data": {"name": "expr"}, "transform": [{"filter": "datum.panel === 'C'"}],
      "mark": {"type": "rect", "stroke": "#151515", "strokeWidth": 0.8},
      "encoding": {
       "x": {"field": "group", "type": "nominal", "sort": ["Control", "Diabetic"], "scale": {"paddingInner": 0, "paddingOuter": 0},
        "axis": {"orient": "top", "title": "C", "titleX": -128, "titleY": -9, "titleAlign": "left", "titleBaseline": "alphabetic", "titleAngle": 0, "titleFont": "Liberation Sans", "titleFontSize": 18, "titleFontWeight": "bold", "titleColor": "black",
         "labelAngle": 0, "labelFontStyle": "italic", "labelFontSize": 11, "labelBaseline": "alphabetic", "labelPadding": 10, "labelColor": "black", "domain": false, "ticks": false, "tickSize": 0}},
       "xOffset": {"field": "rep", "type": "ordinal", "scale": {"paddingInner": 0, "paddingOuter": 0}},
       "y": {"field": "gene", "type": "nominal", "sort": null, "scale": {"paddingInner": 0, "paddingOuter": 0},
        "axis": {"orient": "left", "offset": 63, "title": "MMPs", "titleAngle": 0, "titleAlign": "center", "titleBaseline": "middle", "titleX": -38, "titleY": 60, "titleFontStyle": "italic", "titleFontWeight": "normal", "titleFontSize": 10.5, "titleColor": "black",
         "labelFontStyle": "italic", "labelFontSize": 10.5, "labelPadding": -59, "labelColor": "black", "ticks": false, "tickSize": 0, "domainColor": "#555", "domainWidth": 1.5}},
       "color": {"field": "value", "type": "quantitative", "scale": {"domain": [-3, 0, 3], "range": ["#30ff30", "#000000", "#ff1a1a"], "interpolate": "rgb"},
        "legend": {"orient": "none", "legendX": -16, "legendY": 142, "direction": "horizontal", "gradientLength": 146, "gradientThickness": 3.5, "values": [-3, 0, 3], "labelExpr": "datum.value == 0 ? '0' : format(datum.value, '.1f')", "title": "Relative Expression", "titleOrient": "bottom", "titleAnchor": "middle", "titleFontSize": 8.8, "titleFontWeight": "normal", "titleColor": "#333", "labelFontSize": 8.5, "labelColor": "#222", "gradientStrokeColor": "black", "gradientStrokeWidth": 0.8, "padding": 0, "labelOffset": 0.5, "titlePadding": 2}}
      }},
     {"data": {"values": [{}]}, "mark": {"type": "rule", "color": "black", "strokeWidth": 2},
      "encoding": {"x": {"datum": "Diabetic", "bandPosition": 0}}},
     {"data": {"name": "groups"}, "mark": {"type": "rule", "color": "black", "strokeWidth": 1.6, "yOffset": -5},
      "encoding": {"x": {"field": "group", "type": "nominal", "sort": ["Control", "Diabetic"], "bandPosition": 0.06}, "x2": {"field": "group", "bandPosition": 0.89}, "y": {"datum": "ADAM7", "type": "nominal", "bandPosition": 0}}}
    ]}
  ]}
]
}
